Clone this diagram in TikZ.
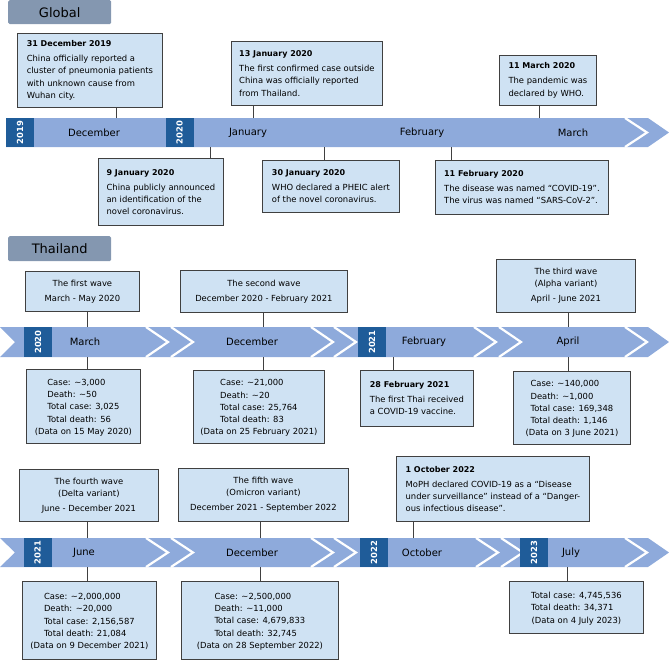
\documentclass[tikz,border=0pt]{standalone}
\usepackage{fontspec}
\setmainfont{DejaVu Sans}
\definecolor{boxblue}{HTML}{CFE2F3}
\definecolor{bandblue}{HTML}{8EAADB}
\definecolor{yearblue}{HTML}{1F5C99}
\definecolor{tabgray}{HTML}{8497B0}
\definecolor{edgegray}{HTML}{404040}
\newcommand{\boxfont}{\fontsize{8.4}{12.2}\selectfont}
\newcommand{\evtitle}[1]{{\fontsize{8}{12.2}\selectfont\bfseries #1}}
\newcommand{\tl}{\textasciitilde}
\begin{document}
\begin{tikzpicture}[x=1pt,y=-1pt,
    evbox/.style={draw=edgegray,fill=boxblue,line width=0.8pt,font=\boxfont,
      align=left,anchor=north west,inner sep=0pt},
    wavebox/.style={evbox,align=center},
    databox/.style={evbox,align=center},
    tabbox/.style={fill=tabgray,rounded corners=1.5pt,anchor=north west,
      minimum width=103,font=\fontsize{13}{15}\selectfont,text=black},
    yearbox/.style={fill=yearblue,text=white,rotate=90,inner sep=0pt,
      minimum height=28,font=\fontsize{8.4}{10}\selectfont\bfseries},
    month/.style={font=\fontsize{10}{12}\selectfont,text=black},
    gap/.style={draw=white,line width=2.2pt,line join=miter},
    tick/.style={draw=edgegray,line width=0.8pt}]
  \useasboundingbox (0,0) rectangle (669,661);

  % Global
  \node[tabbox,minimum height=24] (global) at (8,0) {Global};
  \fill[bandblue] (6,118) -- (648,118) -- (669,132.5) -- (648,147) -- (6,147) -- cycle;
  \draw[gap] (625,118) -- (647,132.5) -- (625,147);
  \node[yearbox,minimum width=29] (ya2019) at (20,132.5) {2019};
  \node[yearbox,minimum width=29] (ya2020) at (179.5,132.5) {2020};
  \node[month] (ma1) at (94,132.5) {December};
  \node[month] (ma2) at (248,132.5) {January};
  \node[month] (ma3) at (422,132.5) {February};
  \node[month] (ma4) at (573,132.5) {March};

  \node[evbox,minimum width=145,minimum height=74] (dec31) at (17,33)
    {\evtitle{31 December 2019}\\[2.8pt]China officially reported a\\cluster of pneumonia patients\\with unknown cause from\\Wuhan city.};
  \node[evbox,minimum width=151,minimum height=64] (jan13) at (231,41)
    {\evtitle{13 January 2020}\\[2.8pt]The first confirmed case outside\\China was officially reported\\from Thailand.};
  \node[evbox,minimum width=97,minimum height=50] (mar11) at (499,55)
    {\evtitle{11 March 2020}\\[2.8pt]The pandemic was\\declared by WHO.};
  \node[evbox,minimum width=125,minimum height=67] (jan9) at (98,158)
    {\evtitle{9 January 2020}\\[2.8pt]China publicly announced\\an identification of the\\novel coronavirus.};
  \node[evbox,minimum width=137,minimum height=52] (jan30) at (262,160)
    {\evtitle{30 January 2020}\\[2.8pt]WHO declared a PHEIC alert\\of the novel coronavirus.};
  \node[evbox,minimum width=173,minimum height=54] (feb11) at (435,160)
    {\evtitle{11 February 2020}\\[2.8pt]The disease was named “COVID-19”.\\The virus was named “SARS-CoV-2”.};

  \coordinate (ka1) at (116,118);
  \coordinate (ka2) at (253,118);
  \coordinate (ka3) at (539,118);
  \coordinate (ka4) at (210,147);
  \coordinate (ka5) at (324,147);
  \coordinate (ka6) at (451,147);
  \draw[tick] (ka1) -- (ka1 |- dec31.south);
  \draw[tick] (ka2) -- (ka2 |- jan13.south);
  \draw[tick] (ka3) -- (ka3 |- mar11.south);
  \draw[tick] (ka4) -- (ka4 |- jan9.north);
  \draw[tick] (ka5) -- (ka5 |- jan30.north);
  \draw[tick] (ka6) -- (ka6 |- feb11.north);

  % Thailand
  \node[tabbox,minimum height=25] (thailand) at (8,236) {Thailand};
  \fill[bandblue] (0,327) -- (648,327) -- (669,342) -- (648,357) -- (0,357) -- (15,342) -- cycle;
  \foreach \x in {146,171,311,334,474,499,625}
    \draw[gap] (\x,327) -- (\x+22,342) -- (\x,357);
  \node[yearbox,minimum width=30] (yb2020) at (38,342) {2020};
  \node[yearbox,minimum width=30] (yb2021) at (372,342) {2021};
  \node[month] (mb1) at (85,342) {March};
  \node[month] (mb2) at (252,342) {December};
  \node[month] (mb3) at (424,342) {February};
  \node[month] (mb4) at (568,342) {April};

  \node[wavebox,minimum width=114,minimum height=40] (wave1) at (25,271)
    {The first wave\\[3pt]March - May 2020};
  \node[wavebox,minimum width=167,minimum height=42] (wave2) at (180,270)
    {The second wave\\[3pt]December 2020 - February 2021};
  \node[wavebox,minimum width=139,minimum height=53] (wave3) at (496,259)
    {The third wave\\(Alpha variant)\\[3pt]April - June 2021};
  \node[databox,minimum width=114,minimum height=74] (data1) at (26,369)
    {\begin{tabular}[b]{@{}l@{}}Case: \tl3,000\\Death: \tl50\\Total case: 3,025\\Total death: 56\end{tabular}\\(Data on 15 May 2020)};
  \node[databox,minimum width=131,minimum height=73] (data2) at (193,370)
    {\begin{tabular}[b]{@{}l@{}}Case: \tl21,000\\Death: \tl20\\Total case: 25,764\\Total death: 83\end{tabular}\\(Data on 25 February 2021)};
  \node[evbox,minimum width=113,minimum height=56] (feb28) at (360,370)
    {\evtitle{28 February 2021}\\[2.8pt]The first Thai received\\a COVID-19 vaccine.};
  \node[databox,minimum width=117,minimum height=73] (data3) at (513,371)
    {\begin{tabular}[b]{@{}l@{}}Case: \tl140,000\\Death: \tl1,000\\Total case: 169,348\\Total death: 1,146\end{tabular}\\(Data on 3 June 2021)};

  \coordinate (kb1) at (87,327);
  \coordinate (kb2) at (263,327);
  \coordinate (kb3) at (568,327);
  \coordinate (kb4) at (87,357);
  \coordinate (kb5) at (263,357);
  \coordinate (kb6) at (393,357);
  \coordinate (kb7) at (568,357);
  \draw[tick] (kb1) -- (kb1 |- wave1.south);
  \draw[tick] (kb2) -- (kb2 |- wave2.south);
  \draw[tick] (kb3) -- (kb3 |- wave3.south);
  \draw[tick] (kb4) -- (kb4 |- data1.north);
  \draw[tick] (kb5) -- (kb5 |- data2.north);
  \draw[tick] (kb6) -- (kb6 |- feb28.north);
  \draw[tick] (kb7) -- (kb7 |- data3.north);

  % Thailand, second row
  \fill[bandblue] (0,538) -- (648,538) -- (669,552.5) -- (648,567) -- (0,567) -- (15,552.5) -- cycle;
  \foreach \x in {146,171,311,334,476,501,625}
    \draw[gap] (\x,538) -- (\x+22,552.5) -- (\x,567);
  \node[yearbox,minimum width=29] (yc2021) at (37.5,552.5) {2021};
  \node[yearbox,minimum width=29] (yc2022) at (374,552.5) {2022};
  \node[yearbox,minimum width=29] (yc2023) at (534,552.5) {2023};
  \node[month] (mc1) at (84,552.5) {June};
  \node[month] (mc2) at (252,552.5) {December};
  \node[month] (mc3) at (422,552.5) {October};
  \node[month] (mc4) at (571,552.5) {July};

  \node[wavebox,minimum width=139,minimum height=52] (wave4) at (19,469)
    {The fourth wave\\(Delta variant)\\[3pt]June - December 2021};
  \node[wavebox,minimum width=170,minimum height=53] (wave5) at (178,468)
    {The fifth wave\\(Omicron variant)\\[3pt]December 2021 - September 2022};
  \node[evbox,minimum width=193,minimum height=65] (oct1) at (396,456)
    {\evtitle{1 October 2022}\\[2.8pt]MoPH declared COVID-19 as a “Disease\\under surveillance” instead of a “Danger-\\ous infectious disease”.};
  \node[databox,minimum width=134,minimum height=78] (data4) at (22,581)
    {\begin{tabular}[b]{@{}l@{}}Case: \tl2,000,000\\Death: \tl20,000\\Total case: 2,156,587\\Total death: 21,084\end{tabular}\\(Data on 9 December 2021)};
  \node[databox,minimum width=157,minimum height=78] (data5) at (181,581)
    {\begin{tabular}[b]{@{}l@{}}Case: \tl2,500,000\\Death: \tl11,000\\Total case: 4,679,833\\Total death: 32,745\end{tabular}\\(Data on 28 September 2022)};
  \node[databox,minimum width=134,minimum height=52] (data6) at (509,581)
    {\begin{tabular}[b]{@{}l@{}}Total case: 4,745,536\\Total death: 34,371\end{tabular}\\(Data on 4 July 2023)};

  \coordinate (kc1) at (87,538);
  \coordinate (kc2) at (260,538);
  \coordinate (kc3) at (413,538);
  \coordinate (kc4) at (87,567);
  \coordinate (kc5) at (260,567);
  \coordinate (kc6) at (567,567);
  \draw[tick] (kc1) -- (kc1 |- wave4.south);
  \draw[tick] (kc2) -- (kc2 |- wave5.south);
  \draw[tick] (kc3) -- (kc3 |- oct1.south);
  \draw[tick] (kc4) -- (kc4 |- data4.north);
  \draw[tick] (kc5) -- (kc5 |- data5.north);
  \draw[tick] (kc6) -- (kc6 |- data6.north);
\end{tikzpicture}
\end{document}
